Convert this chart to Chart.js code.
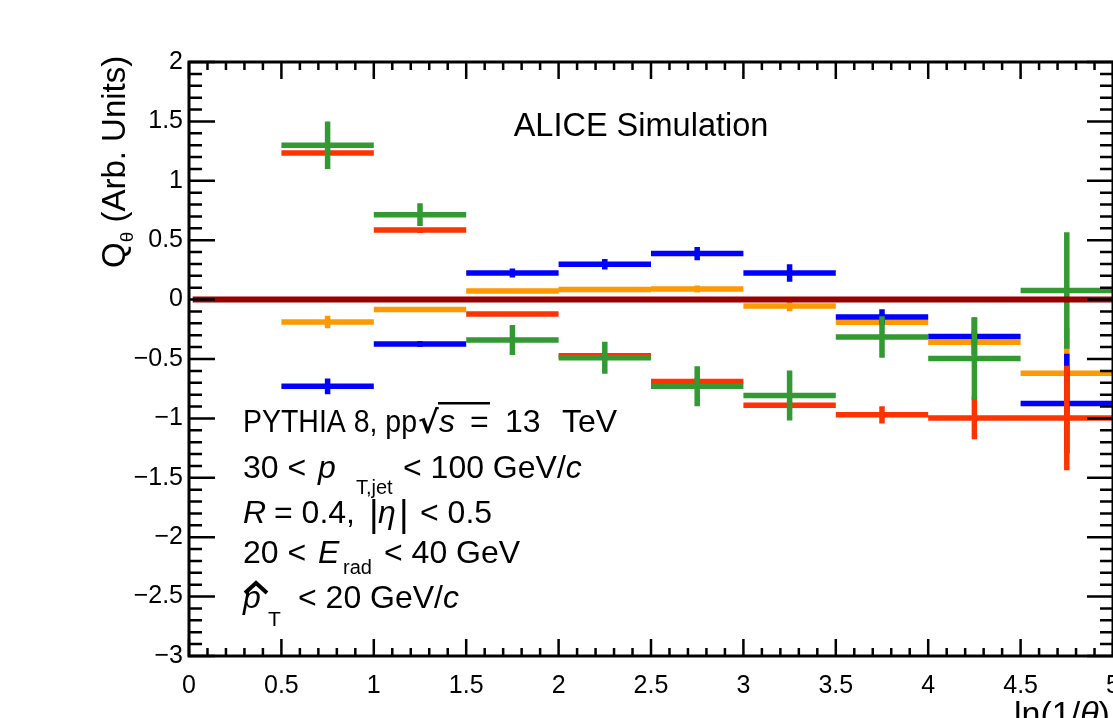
<!DOCTYPE html>
<html>
<head>
<meta charset="utf-8">
<script src="https://cdn.jsdelivr.net/npm/chart.js@4.4.1/dist/chart.umd.min.js"></script>
<style>
  html, body { margin:0; padding:0; background:#fff; }
  #wrap { width:1113px; height:718px; position:relative; }
</style>
</head>
<body>
<div id="wrap"><canvas id="chart" width="1113" height="718"></canvas></div>
<script>
// ===== Data =====
const binLow  = [0.5, 1, 1.5, 2, 2.5, 3, 3.5, 4, 4.5];
const binHigh = [1, 1.5, 2, 2.5, 3, 3.5, 4, 4.5, 5];

const blueVals   = [-0.73, -0.373, 0.224, 0.297, 0.387, 0.224, -0.146, -0.31, -0.875];
const blueErrs   = [0.066, 0.025, 0.038, 0.044, 0.056, 0.074, 0.065, 0.16, 0.42];
const orangeVals = [-0.188, -0.084, 0.072, 0.084, 0.089, -0.054, -0.19, -0.36, -0.62];
const orangeErrs = [0.053, 0.01, 0.015, 0.02, 0.03, 0.045, 0.03, 0.1, 0.38];
const redVals    = [1.233, 0.585, -0.121, -0.473, -0.69, -0.889, -0.97, -0.996, -0.996];
const redErrs    = [0.01, 0.025, 0.02, 0.02, 0.03, 0.03, 0.073, 0.18, 0.44];
const greenVals  = [1.30, 0.715, -0.34, -0.49, -0.73, -0.807, -0.315, -0.496, 0.076];
const greenErrs  = [0.2, 0.095, 0.126, 0.135, 0.168, 0.21, 0.175, 0.345, 0.49];

const zeroX = [0.02, 5];
const zeroY = [0, 0];

const xRange = [0, 5];
const yRange = [-3, 2];

const FONT = '"Liberation Sans", Arial, Helvetica, sans-serif';

// bin line + vertical error bar, separated with null gaps
function binPoints(vals, errs){
  const pts = [];
  vals.forEach((v,i)=>{
    const c = (binLow[i]+binHigh[i])/2;
    pts.push({x:binLow[i], y:v}, {x:binHigh[i], y:v}, {x:binHigh[i], y:null});
    pts.push({x:c, y:v-errs[i]}, {x:c, y:v+errs[i]}, {x:c, y:null});
  });
  return pts;
}

function series(label, color, vals, errs){
  return {
    label, data: binPoints(vals, errs), showLine:true, spanGaps:false,
    borderColor:color, backgroundColor:color, borderWidth:5.5,
    borderCapStyle:'butt', pointRadius:0, pointHoverRadius:0
  };
}

function minus(v){ return v < 0 ? '\u2212' + Math.abs(v) : String(v); }

// ===== ROOT-like frame with inward ticks =====
const framePlugin = {
  id:'frame',
  afterDatasetsDraw(chart){
    const {ctx, chartArea:a, scales:{x, y}} = chart;
    ctx.save();
    ctx.strokeStyle = '#000';
    ctx.lineWidth = 2.5;
    ctx.beginPath();
    for(let i=0;i<=50;i++){
      const px = x.getPixelForValue(i/10);
      const len = i%5===0 ? 17 : 8;
      ctx.moveTo(px, a.bottom); ctx.lineTo(px, a.bottom-len);
      ctx.moveTo(px, a.top);    ctx.lineTo(px, a.top+len);
    }
    for(let i=-30;i<=20;i++){
      const py = y.getPixelForValue(i/10);
      const len = i%5===0 ? 26 : 13;
      ctx.moveTo(a.left, py);  ctx.lineTo(a.left+len, py);
      ctx.moveTo(a.right, py); ctx.lineTo(a.right-len, py);
    }
    ctx.stroke();
    ctx.lineWidth = 3;
    ctx.strokeRect(a.left, a.top, a.right-a.left, a.bottom-a.top);
    ctx.restore();
  }
};

// draw a row of text pieces, returns end x
function runs(ctx, x, y, parts){
  parts.forEach(p=>{
    const size = p.size || 32;
    ctx.font = (p.it ? 'italic ' : '') + size + 'px ' + FONT;
    if(p.at !== undefined) x = p.at;
    if(p.max) ctx.fillText(p.t, x, y + (p.dy || 0), p.max);
    else ctx.fillText(p.t, x, y + (p.dy || 0));
    x += p.max ? Math.min(p.max, ctx.measureText(p.t).width) : ctx.measureText(p.t).width;
  });
  return x;
}

// ===== Labels & annotations =====
const textPlugin = {
  id:'texts',
  afterDraw(chart){
    const ctx = chart.ctx;
    ctx.save();
    ctx.fillStyle = '#000';
    ctx.strokeStyle = '#000';
    ctx.textBaseline = 'alphabetic';

    // title
    ctx.font = '32.5px ' + FONT;
    ctx.textAlign = 'center';
    ctx.fillText('ALICE Simulation', 641, 136);
    ctx.textAlign = 'left';

    // PYTHIA 8, pp sqrt(s) = 13 TeV
    runs(ctx, 243, 432, [{t:'PYTHIA 8, pp', size:31, max:174}]);
    ctx.font = 'bold 31px "DejaVu Sans"';
    ctx.fillText('\u221A', 418, 433);
    ctx.fillRect(438, 402, 52, 2.5);
    runs(ctx, 439, 432, [{t:'s', it:true}, {t:'=', at:470}, {t:'13', at:505}, {t:'TeV', at:562}]);

    // 30 < pT,jet < 100 GeV/c
    runs(ctx, 243, 478, [
      {t:'30 <'}, {t:'p', it:true, at:318},
      {t:'T,jet', size:20, dy:16, at:356},
      {t:'< 100 GeV/', at:403}, {t:'c', it:true}
    ]);

    // R = 0.4, |eta| < 0.5
    runs(ctx, 243, 523, [
      {t:'R', it:true}, {t:'= 0.4,', at:274}, {t:'|', size:37, dy:3, at:369},
      {t:'\u03B7', it:true, at:378}, {t:'|', size:37, dy:3, at:399}, {t:'< 0.5', at:420}
    ]);

    // 20 < E_rad < 40 GeV
    runs(ctx, 243, 563, [
      {t:'20 <'}, {t:'E', it:true, at:318}, {t:'rad', size:20, dy:11, at:343}, {t:'< 40 GeV', at:384}
    ]);

    // p-hat_T < 20 GeV/c
    runs(ctx, 243, 608, [
      {t:'p', it:true}, {t:'T', size:21, dy:18, at:268}, {t:'< 20 GeV/', at:298}, {t:'c', it:true}
    ]);
    ctx.lineWidth = 4;
    ctx.beginPath();
    ctx.moveTo(245, 593); ctx.lineTo(256, 583); ctx.lineTo(267, 593);
    ctx.stroke();

    // y title
    ctx.save();
    ctx.translate(125, 268);
    ctx.rotate(-Math.PI/2);
    runs(ctx, 0, 0, [{t:'Q', size:33}, {t:'\u03B8', size:19, dy:8}, {t:' (Arb. Units)', size:33}]);
    ctx.restore();

    // x title
    runs(ctx, 1014, 725, [{t:'ln(1/', size:34}, {t:'\u03B8', size:34, it:true}, {t:')', size:34}]);
    ctx.restore();
  }
};

const ctx = document.getElementById('chart').getContext('2d');
new Chart(ctx, {
  type:'scatter',
  data:{
    datasets:[
      { label:'zero', data: zeroX.map((x,i)=>({x, y:zeroY[i]})), showLine:true,
        borderColor:'#990000', borderWidth:6, borderCapStyle:'butt', pointRadius:0 },
      series('green',  '#339933', greenVals,  greenErrs),
      series('red',    '#ff3300', redVals,    redErrs),
      series('blue',   '#0000ff', blueVals,   blueErrs),
      series('orange', '#ff9900', orangeVals, orangeErrs)
    ]
  },
  options:{
    responsive:false, animation:false, events:[],
    layout:{ padding:{ top:62, right:0, bottom:0, left:0 } },
    plugins:{ legend:{display:false}, tooltip:{enabled:false} },
    scales:{
      x:{
        type:'linear', min:xRange[0], max:xRange[1],
        grid:{display:false, drawTicks:false}, border:{display:false},
        ticks:{ stepSize:0.5, padding:15, color:'#000', font:{family:FONT, size:25}, callback:minus, maxRotation:0, autoSkip:false },
        afterFit(s){ s.height = 62; s.paddingLeft = 0; s.paddingRight = 0; }
      },
      y:{
        type:'linear', min:yRange[0], max:yRange[1],
        grid:{display:false, drawTicks:false}, border:{display:false},
        ticks:{ stepSize:0.5, padding:6, color:'#000', font:{family:FONT, size:25}, callback:minus },
        afterFit(s){ s.width = 189; s.paddingTop = 0; s.paddingBottom = 0; }
      }
    }
  },
  plugins:[framePlugin, textPlugin]
});
</script>
</body>
</html>
